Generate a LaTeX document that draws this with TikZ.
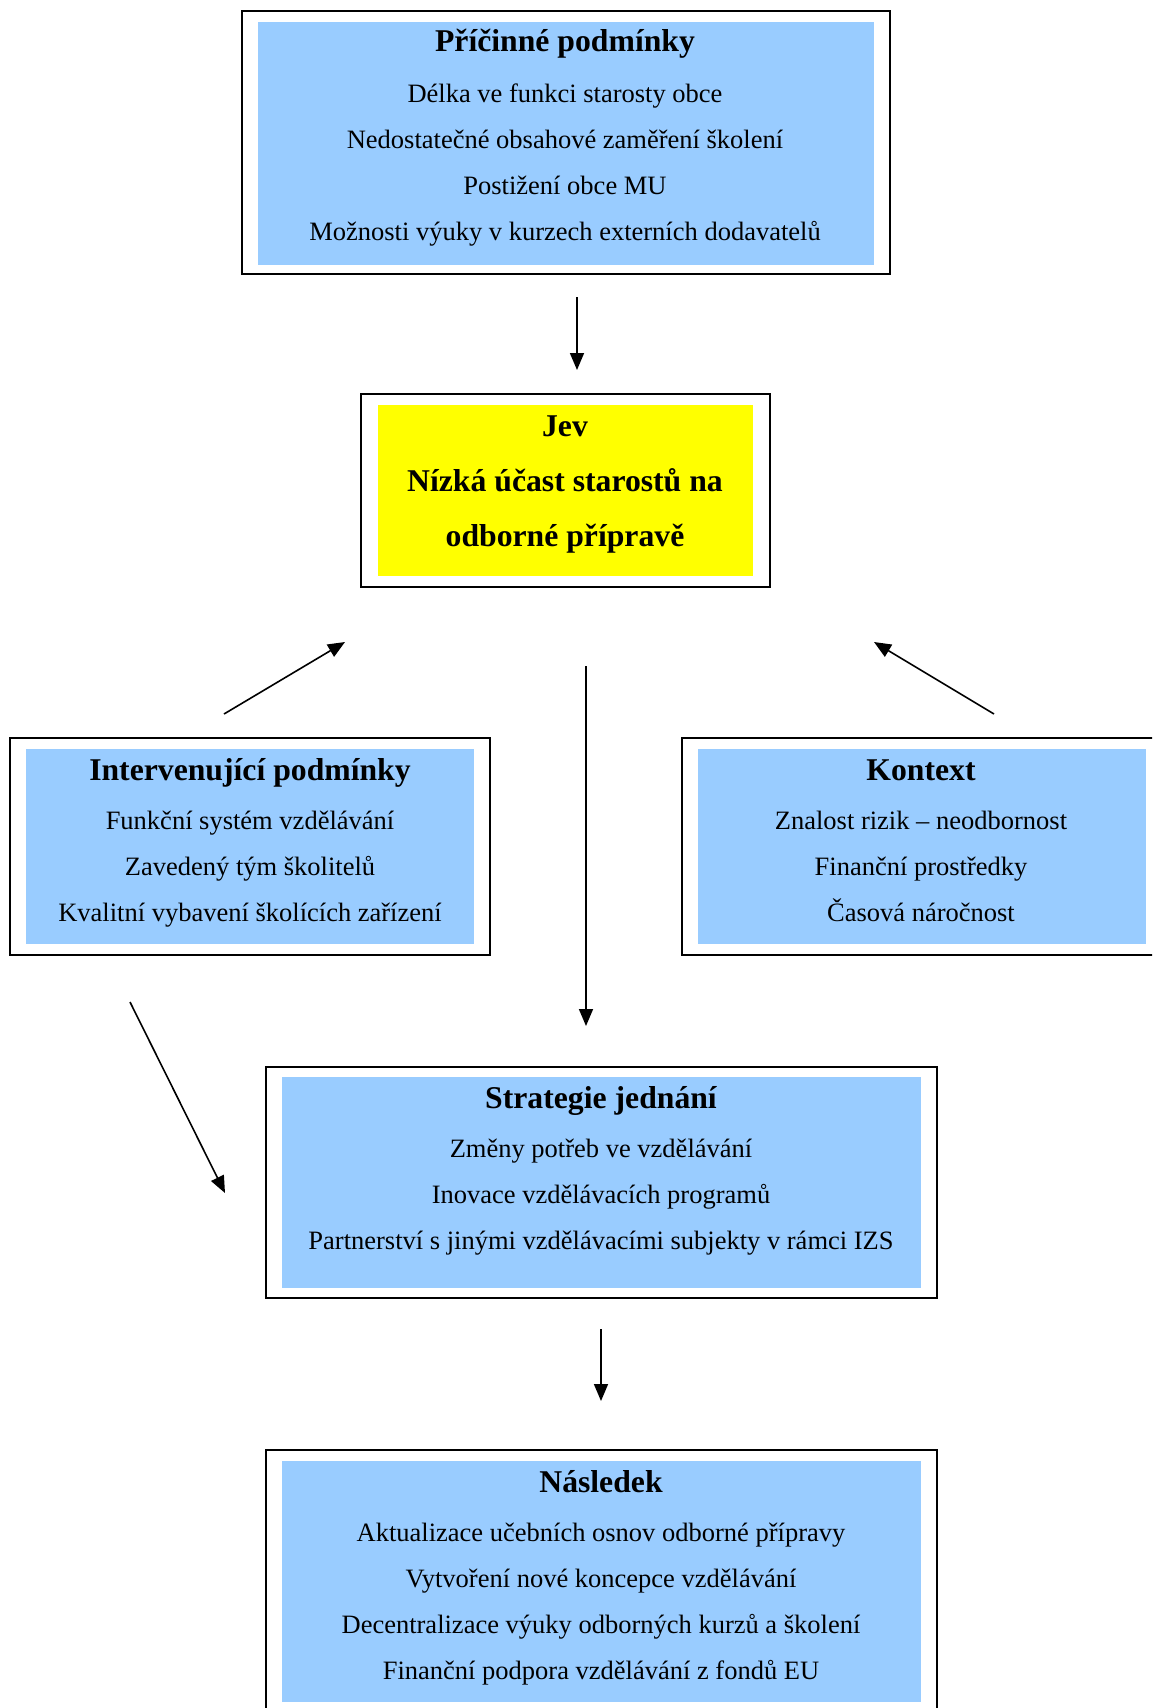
\documentclass[tikz,border=0pt]{standalone}
\usepackage{fontspec}
\setmainfont{Liberation Serif}
\usetikzlibrary{arrows.meta}

\definecolor{paneblue}{HTML}{99CCFF}
\definecolor{paneyellow}{HTML}{FFFF00}

\tikzset{
  frame/.style={draw=black, line width=2pt, fill=white},
  headline/.style={anchor=base, inner sep=0pt, font=\fontsize{31.7}{36}\selectfont\bfseries},
  itemline/.style={anchor=base, inner sep=0pt, font=\fontsize{26.5}{30}\selectfont},
  flow/.style={line width=1.6pt, -{Triangle[length=17pt,width=14pt]}}
}

\begin{document}
\begin{tikzpicture}[x=1pt, y=-1pt]
\useasboundingbox (0,0) rectangle (1152,1708);
\clip (0,0) rectangle (1152,1708);

% --- Příčinné podmínky ---
\draw[frame] (242,11) rectangle (890,274);
\fill[paneblue] (258,22) rectangle (874,265);
\node[headline] (pricTitle) at (565,51) {Příčinné podmínky};
\foreach \t [count=\i] in {Délka ve funkci starosty obce,
  Nedostatečné obsahové zaměření školení,
  Postižení obce MU,
  Možnosti výuky v kurzech externích dodavatelů}
  \node[itemline] (pric\i) at (565,{102+46*(\i-1)}) {\t};

% --- Jev ---
\draw[frame] (361,394) rectangle (770,587);
\fill[paneyellow] (378,405) rectangle (753,576);
\node[headline] (jevTitle) at (565,436) {Jev};
\node[headline] (jev1) at (565,491) {Nízká účast starostů na};
\node[headline] (jev2) at (565,546) {odborné přípravě};

% --- Intervenující podmínky ---
\draw[frame] (10,738) rectangle (490,955);
\fill[paneblue] (26,749) rectangle (474,944);
\node[headline] (intTitle) at (250,780) {Intervenující podmínky};
\foreach \t [count=\i] in {Funkční systém vzdělávání,
  Zavedený tým školitelů,
  Kvalitní vybavení školících zařízení}
  \node[itemline] (int\i) at (250,{829+46*(\i-1)}) {\t};

% --- Kontext ---
\draw[frame] (682,738) rectangle (1170,955);
\fill[paneblue] (698,749) rectangle (1146,944);
\node[headline] (konTitle) at (921,780) {Kontext};
\foreach \t [count=\i] in {Znalost rizik – neodbornost,
  Finanční prostředky,
  Časová náročnost}
  \node[itemline] (kon\i) at (921,{829+46*(\i-1)}) {\t};

% --- Strategie jednání ---
\draw[frame] (266,1067) rectangle (937,1298);
\fill[paneblue] (282,1077) rectangle (921,1288);
\node[headline] (strTitle) at (601,1108) {Strategie jednání};
\foreach \t [count=\i] in {Změny potřeb ve vzdělávání,
  Inovace vzdělávacích programů,
  Partnerství s jinými vzdělávacími subjekty v rámci IZS}
  \node[itemline] (str\i) at (601,{1157+46*(\i-1)}) {\t};

% --- Následek ---
\draw[frame] (266,1450) rectangle (937,1725);
\fill[paneblue] (282,1461) rectangle (921,1702);
\node[headline] (nasTitle) at (601,1492) {Následek};
\foreach \t [count=\i] in {Aktualizace učebních osnov odborné přípravy,
  Vytvoření nové koncepce vzdělávání,
  Decentralizace výuky odborných kurzů a školení,
  Finanční podpora vzdělávání z fondů EU}
  \node[itemline] (nas\i) at (601,{1541+46*(\i-1)}) {\t};

% --- connectors ---
\coordinate (aPs) at (577,297);  \coordinate (aPe) at (577,370);
\coordinate (aIs) at (224,714);  \coordinate (aIe) at (345,642);
\coordinate (aKs) at (994,714);  \coordinate (aKe) at (874,642);
\coordinate (aJs) at (586,666);  \coordinate (aJe) at (586,1026);
\coordinate (aLs) at (130,1002); \coordinate (aLe) at (225,1193);
\coordinate (aSs) at (601,1329); \coordinate (aSe) at (601,1401);

\draw[flow] (aPs) -- (aPe);
\draw[flow] (aIs) -- (aIe);
\draw[flow] (aKs) -- (aKe);
\draw[flow] (aJs) -- (aJe);
\draw[flow] (aLs) -- (aLe);
\draw[flow] (aSs) -- (aSe);
\end{tikzpicture}
\end{document}
